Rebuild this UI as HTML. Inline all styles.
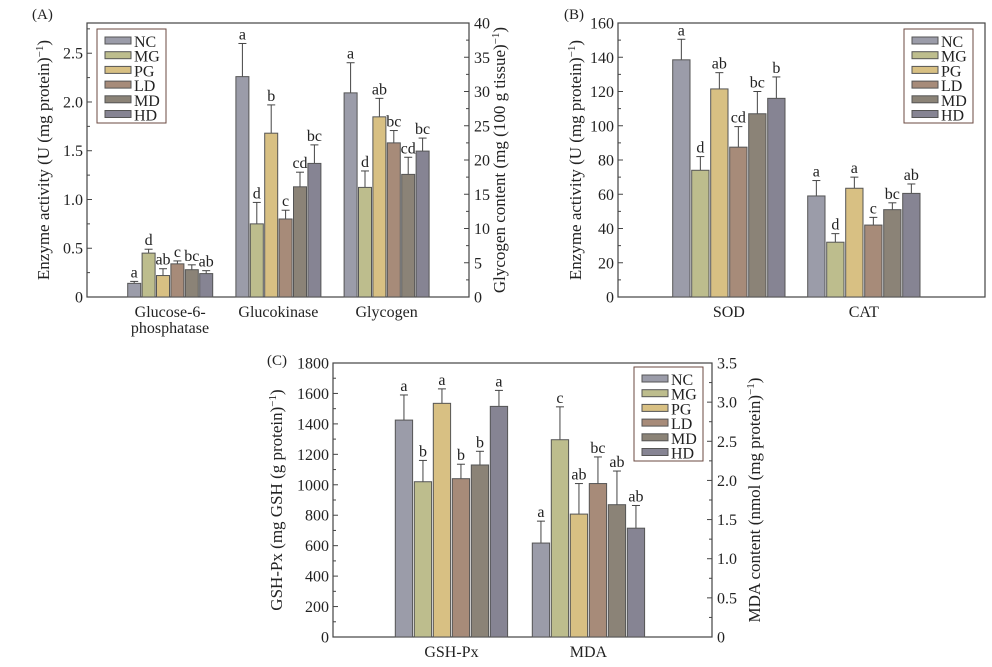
<!DOCTYPE html>
<html><head><meta charset="utf-8"><style>
html,body{margin:0;padding:0;background:#fff;}
svg text{font-family:"Liberation Serif",serif;fill:#222;}
</style></head><body>
<svg id="fig" width="992" height="662" viewBox="0 0 992 662" xmlns="http://www.w3.org/2000/svg"></svg>
<script>
const groups=["NC","MG","PG","LD","MD","HD"];
const colors=["#9b9ca9","#bdbd8d","#d8c083","#a78b79","#8b8377","#868493"];
// Panel A
const catsA=["Glucose-6-","Glucokinase","Glycogen"];
const valsA=[[0.14,0.45,0.22,0.34,0.28,0.24],[2.26,0.75,1.68,0.80,1.13,1.37],[29.8,16.0,26.3,22.5,17.9,21.3]];
const errA=[[0.16,0.49,0.29,0.37,0.33,0.27],[2.60,0.97,1.97,0.89,1.28,1.56],[34.2,18.4,29.0,24.3,20.4,23.2]];
const letA=[["a","d","ab","c","bc","ab"],["a","d","b","c","cd","bc"],["a","d","ab","bc","cd","bc"]];
const ticksA=[0,0.5,1.0,1.5,2.0,2.5];
const ticksAR=[0,5,10,15,20,25,30,35,40];
// Panel B
const catsB=["SOD","CAT"];
const valsB=[[138.5,74,121.5,87.5,107,116],[59,32,63.5,42,51,60.5]];
const errB=[[150.5,82,131,99.5,120,128.5],[68,37,70,46.5,55,66]];
const letB=[["a","d","ab","cd","bc","b"],["a","d","a","c","bc","ab"]];
const ticksB=[0,20,40,60,80,100,120,140,160];
// Panel C
const catsC=["GSH-Px","MDA"];
const valsC=[[1425,1020,1535,1040,1130,1515],[1.20,2.52,1.57,1.96,1.69,1.39]];
const errC=[[1590,1160,1630,1135,1220,1620],[1.48,2.94,1.96,2.30,2.12,1.68]];
const letC=[["a","b","a","b","b","a"],["a","c","ab","bc","ab","ab"]];
const ticksC=[0,200,400,600,800,1000,1200,1400,1600,1800];
const ticksCR=[0,0.5,1.0,1.5,2.0,2.5,3.0,3.5];

const svg=document.getElementById('fig');
const NS="http://www.w3.org/2000/svg";
function mk(tag,attrs,parent){const e=document.createElementNS(NS,tag);for(const k in attrs)e.setAttribute(k,attrs[k]);(parent||svg).appendChild(e);return e;}
function txt(s,x,y,size,anchor,parent,rot){const t=mk('text',{x:x,y:y,'font-size':size,'text-anchor':anchor||'middle'},parent);if(rot)t.setAttribute('transform','rotate(-90 '+x+' '+y+')');t.innerHTML=s;return t;}
function fmt(v,dec){return v===0?"0":v.toFixed(dec);}

function panel(P){
  const g=mk('g',{});
  
  
  const {L,R,T,B}=P;
  const yL=v=>B-(v-0)/(P.maxL)*(B-T);
  const yR=v=>B-v/(P.maxR||1)*(B-T);
  mk('rect',{x:L,y:T,width:R-L,height:B-T,fill:'none',stroke:'#444','stroke-width':1.2},g);
  const lt=P.ticksL;const step=lt[1]-lt[0];
  for(let i=0;i<lt.length;i++){
    const y=yL(lt[i]);
    mk('line',{x1:L,x2:L+5,y1:y,y2:y,stroke:'#444'},g);
    const lab=txt(fmt(lt[i],P.decL),L-4,y+5.5,16,'end',g);
    
    const m=lt[i]+step/2; if(m<=P.maxL){const ym=yL(m);mk('line',{x1:L,x2:L+3,y1:ym,y2:ym,stroke:'#444'},g);}
  }
  if(P.ticksR){const rt=P.ticksR;const rs=rt[1]-rt[0];
    for(let i=0;i<rt.length;i++){const y=yR(rt[i]);
      mk('line',{x1:R,x2:R-5,y1:y,y2:y,stroke:'#444'},g);
      const lab=txt(fmt(rt[i],P.decR),R+5,y+5.5,16,'start',g);
      
      const m=rt[i]+rs/2; if(m<=P.maxR){const ym=yR(m);mk('line',{x1:R,x2:R-3,y1:ym,y2:ym,stroke:'#444'},g);}
    }}
  P.vals.forEach((row,gi)=>{
    const useR=P.rightGroups&&P.rightGroups.includes(gi);
    const sc=useR?yR:yL;
    row.forEach((v,j)=>{
      const x=P.start+gi*P.gstep+j*P.bstep;
      const y=sc(v),ye=sc(P.err[gi][j]);
      const cx=x+P.bw/2;
      mk('line',{x1:cx,x2:cx,y1:ye,y2:y,stroke:'#444','stroke-width':1},g);
      mk('line',{x1:cx-4,x2:cx+4,y1:ye,y2:ye,stroke:'#444','stroke-width':1},g);
      const r=mk('rect',{x:x,y:y,width:P.bw,height:B-y,fill:colors[j],stroke:'#555','stroke-width':1},g);
      
      
      const l=txt(P.lets[gi][j],cx,ye-4,16,'middle',g);
      
    });
    const gc=P.start+gi*P.gstep+(5*P.bstep+P.bw)/2;
    const xl=txt(P.cats[gi],gc,B+20,16,'middle',g);
    
  });
  const lg=mk('g',{},g);
  
  mk('rect',{x:P.lx,y:P.ly,width:69,height:94,fill:'#fff',stroke:'#6b4a40','stroke-width':1},lg);
  groups.forEach((n,j)=>{
    const yy=P.ly+8+j*14.7;
    const e=mk('g',{},lg);
    
    
    mk('rect',{x:P.lx+8,y:yy,width:26,height:7,fill:colors[j],stroke:'#555'},e);
    txt(n,P.lx+37,yy+10,16,'start',e);
  });
  const pl=txt(P.plabel,P.px,P.py,15,'start',g);
  
  const yt=txt(P.ytitle,P.ytx,(T+B)/2,17,'middle',g,true);
  
  if(P.y2title){const y2=txt(P.y2title,P.y2x,(T+B)/2,17,'middle',g,true);
    }
  return g;
}
panel({name:'panel-a',L:87,R:469,T:23,B:297,maxL:2.81,decL:1,ticksL:ticksA,maxR:40,decR:0,ticksR:ticksAR,rightGroups:[2],
  vals:valsA,err:errA,lets:letA,cats:catsA,start:127.7,gstep:108.2,bstep:14.4,bw:13,
  lx:97,ly:29,plabel:'(A)',px:32,py:19,ytitle:'Enzyme activity (U (mg protein)<tspan baseline-shift="super" font-size="11">−1</tspan>)',ytx:49,
  y2title:'Glycogen content (mg (100 g tissue)<tspan baseline-shift="super" font-size="11">−1</tspan>)',y2x:505});
txt('phosphatase',170,333,16,'middle');
panel({name:'panel-b',L:618,R:985,T:23,B:297,maxL:160,decL:0,ticksL:ticksB,
  vals:valsB,err:errB,lets:letB,cats:catsB,start:672.7,gstep:135,bstep:19,bw:17.3,
  lx:904,ly:29,plabel:'(B)',px:564,py:19,ytitle:'Enzyme activity (U (mg protein)<tspan baseline-shift="super" font-size="11">−1</tspan>)',ytx:581});
panel({name:'panel-c',L:333,R:712,T:363,B:637,maxL:1800,decL:0,ticksL:ticksC,maxR:3.5,decR:1,ticksR:ticksCR,rightGroups:[1],
  vals:valsC,err:errC,lets:letC,cats:catsC,start:395.3,gstep:137,bstep:19,bw:17.3,
  lx:634,ly:367,plabel:'(C)',px:267,py:365,ytitle:'GSH-Px (mg GSH (g protein)<tspan baseline-shift="super" font-size="11">−1</tspan>)',ytx:282,
  y2title:'MDA content (nmol (mg protein)<tspan baseline-shift="super" font-size="11">−1</tspan>)',y2x:760});
</script>
</body></html>
